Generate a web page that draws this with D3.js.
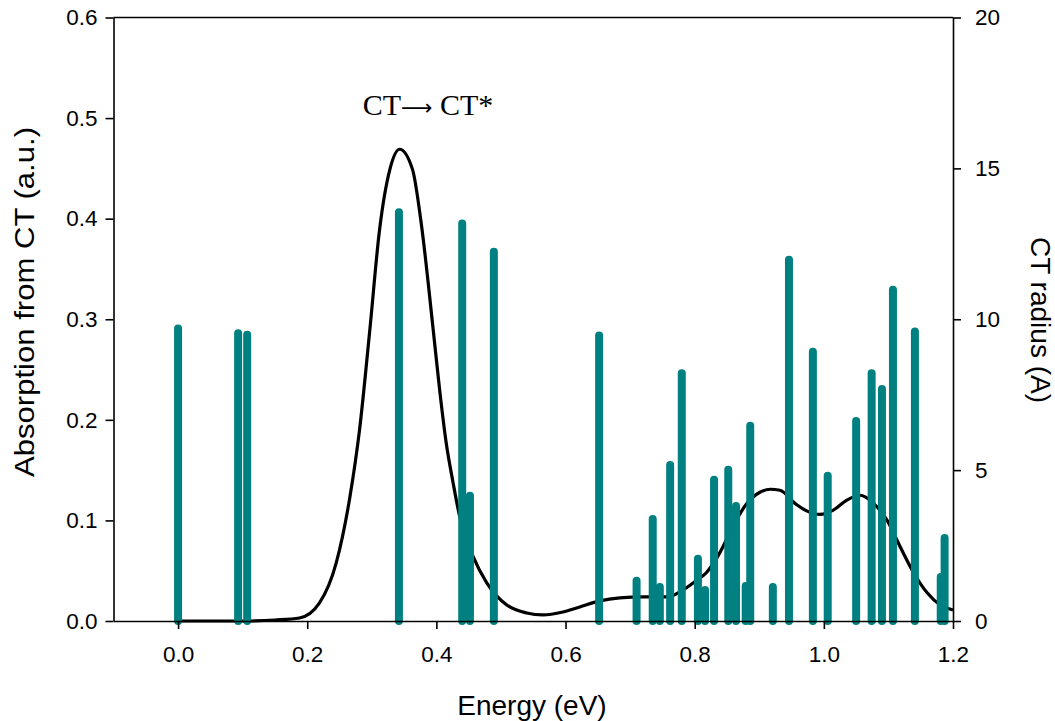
<!DOCTYPE html>
<html>
<head>
<meta charset="utf-8">
<script src="https://cdn.jsdelivr.net/npm/d3@7"></script>
<style>
  html, body { margin: 0; padding: 0; background: #fff; }
  svg { display: block; }
</style>
</head>
<body>
<svg id="chart" width="1055" height="721"></svg>
<script>
// ---- Data ----
// Stick spectrum: transition energies (eV) and CT radius (Å, right axis)
const stickEnergies = [0.000, 0.093, 0.107, 0.342, 0.440, 0.452, 0.489, 0.652, 0.710, 0.735,
                       0.746, 0.762, 0.780, 0.805, 0.816, 0.830, 0.852, 0.864, 0.879, 0.886,
                       0.921, 0.946, 0.983, 1.006, 1.050, 1.074, 1.090, 1.107, 1.141, 1.181, 1.187];
const stickRadii    = [9.69, 9.54, 9.49, 13.55, 13.17, 4.15, 12.24, 9.46, 1.33, 3.38,
                       1.13, 5.17, 8.21, 2.06, 1.03, 4.68, 5.01, 3.81, 1.16, 6.47,
                       1.13, 11.97, 8.92, 4.81, 6.63, 8.21, 7.69, 10.98, 9.59, 1.46, 2.75];

// Broadened absorption curve (left axis)
const curveEnergies = [0.000, 0.100, 0.150, 0.188, 0.219, 0.245, 0.266, 0.281, 0.297, 0.312,
                       0.328, 0.343, 0.363, 0.376, 0.395, 0.405, 0.415, 0.426, 0.435, 0.457,
                       0.478, 0.509, 0.540, 0.565, 0.596, 0.622, 0.653, 0.684, 0.720, 0.760,
                       0.777, 0.800, 0.818, 0.839, 0.859, 0.881, 0.901, 0.917, 0.932, 0.957,
                       0.975, 0.994, 1.014, 1.035, 1.056, 1.077, 1.098, 1.118, 1.139, 1.160,
                       1.180, 1.200];
const curveAbsorption = [0.000, 0.000, 0.001, 0.003, 0.018, 0.058, 0.123, 0.190, 0.290, 0.389,
                         0.449, 0.469, 0.449, 0.398, 0.290, 0.230, 0.178, 0.137, 0.107, 0.064,
                         0.038, 0.016, 0.008, 0.006, 0.009, 0.014, 0.020, 0.023, 0.024, 0.024,
                         0.029, 0.039, 0.048, 0.068, 0.094, 0.117, 0.128, 0.131, 0.130, 0.116,
                         0.109, 0.106, 0.110, 0.120, 0.125, 0.117, 0.100, 0.074, 0.048, 0.028,
                         0.016, 0.011];

const xTicks = [0.0, 0.2, 0.4, 0.6, 0.8, 1.0, 1.2];
const yLeftTicks = [0.0, 0.1, 0.2, 0.3, 0.4, 0.5, 0.6];
const yRightTicks = [0, 5, 10, 15, 20];

const xLabel = "Energy (eV)";
const yLeftLabel = "Absorption from CT (a.u.)";
const yRightLabel = "CT radius (A)";
const annoLeft = "CT", annoArrow = "\u27F6", annoRight = " CT*";

// ---- Layout ----
const L = 113.5, R = 953, T = 17.5, B = 621;
const svg = d3.select("#chart");

const x = d3.scaleLinear().domain([-0.1, 1.2]).range([L, R]);
const yL = d3.scaleLinear().domain([0, 0.6]).range([B, T]);
const yR = d3.scaleLinear().domain([0, 20]).range([B, T]);

const sans = "Arial, 'Liberation Sans', sans-serif";
const tickFont = 22.5;
const titleFont = 28;

// Curve
const curvePts = curveEnergies.map((e, i) => [e, curveAbsorption[i]]);
svg.append("path")
  .datum(curvePts)
  .attr("fill", "none")
  .attr("stroke", "#000")
  .attr("stroke-width", 3.2)
  .attr("d", d3.line().x(d => x(d[0])).y(d => yL(d[1])).curve(d3.curveMonotoneX));

// Sticks
svg.append("g").selectAll("line")
  .data(stickEnergies.map((e, i) => [e, stickRadii[i]]))
  .join("line")
  .attr("x1", d => x(d[0])).attr("x2", d => x(d[0]))
  .attr("y1", yR(0)).attr("y2", d => yR(d[1]))
  .attr("stroke", "#008080")
  .attr("stroke-width", 8)
  .attr("stroke-linecap", "round");

// Axes
function styleAxis(g) {
  g.selectAll(".domain").attr("stroke", "#000").attr("stroke-width", 1.6);
  g.selectAll(".tick line").attr("stroke", "#000").attr("stroke-width", 1.6);
  g.selectAll(".tick text").attr("font-family", sans).attr("font-size", tickFont).attr("fill", "#000");
}

const xAxis = svg.append("g").attr("transform", `translate(0,${B})`)
  .call(d3.axisBottom(x).tickValues(xTicks).tickFormat(d3.format(".1f")).tickSizeInner(8).tickSizeOuter(0).tickPadding(17));
styleAxis(xAxis);

const yAxisL = svg.append("g").attr("transform", `translate(${L},0)`)
  .call(d3.axisLeft(yL).tickValues(yLeftTicks).tickFormat(d3.format(".1f")).tickSizeInner(8).tickSizeOuter(0).tickPadding(8));
styleAxis(yAxisL);

const yAxisR = svg.append("g").attr("transform", `translate(${R},0)`)
  .call(d3.axisRight(yR).tickValues(yRightTicks).tickFormat(d3.format("d")).tickSizeInner(8).tickSizeOuter(0).tickPadding(14));
styleAxis(yAxisR);

// Top frame line
svg.append("line").attr("x1", L).attr("x2", R).attr("y1", T).attr("y2", T)
  .attr("stroke", "#000").attr("stroke-width", 1.6);

// Titles
svg.append("text").attr("x", 532).attr("y", 715)
  .attr("text-anchor", "middle").attr("font-family", sans).attr("font-size", titleFont)
  .text(xLabel);

svg.append("text").attr("transform", `translate(34,302) rotate(-90)`)
  .attr("text-anchor", "middle").attr("font-family", sans).attr("font-size", titleFont)
  .attr("textLength", 350).attr("lengthAdjust", "spacingAndGlyphs")
  .text(yLeftLabel);

svg.append("text").attr("transform", `translate(1031,320) rotate(90)`)
  .attr("text-anchor", "middle").attr("font-family", sans).attr("font-size", titleFont)
  .text(yRightLabel);

// Annotation
const anno = svg.append("text").attr("x", 428).attr("y", 115)
  .attr("text-anchor", "middle")
  .attr("font-family", "'Times New Roman', 'Liberation Serif', serif")
  .attr("font-size", 30);
anno.append("tspan").text(annoLeft);
anno.append("tspan").attr("font-family", "'DejaVu Sans', sans-serif").attr("font-size", 22).text(annoArrow);
anno.append("tspan").text(annoRight);
</script>
</body>
</html>
